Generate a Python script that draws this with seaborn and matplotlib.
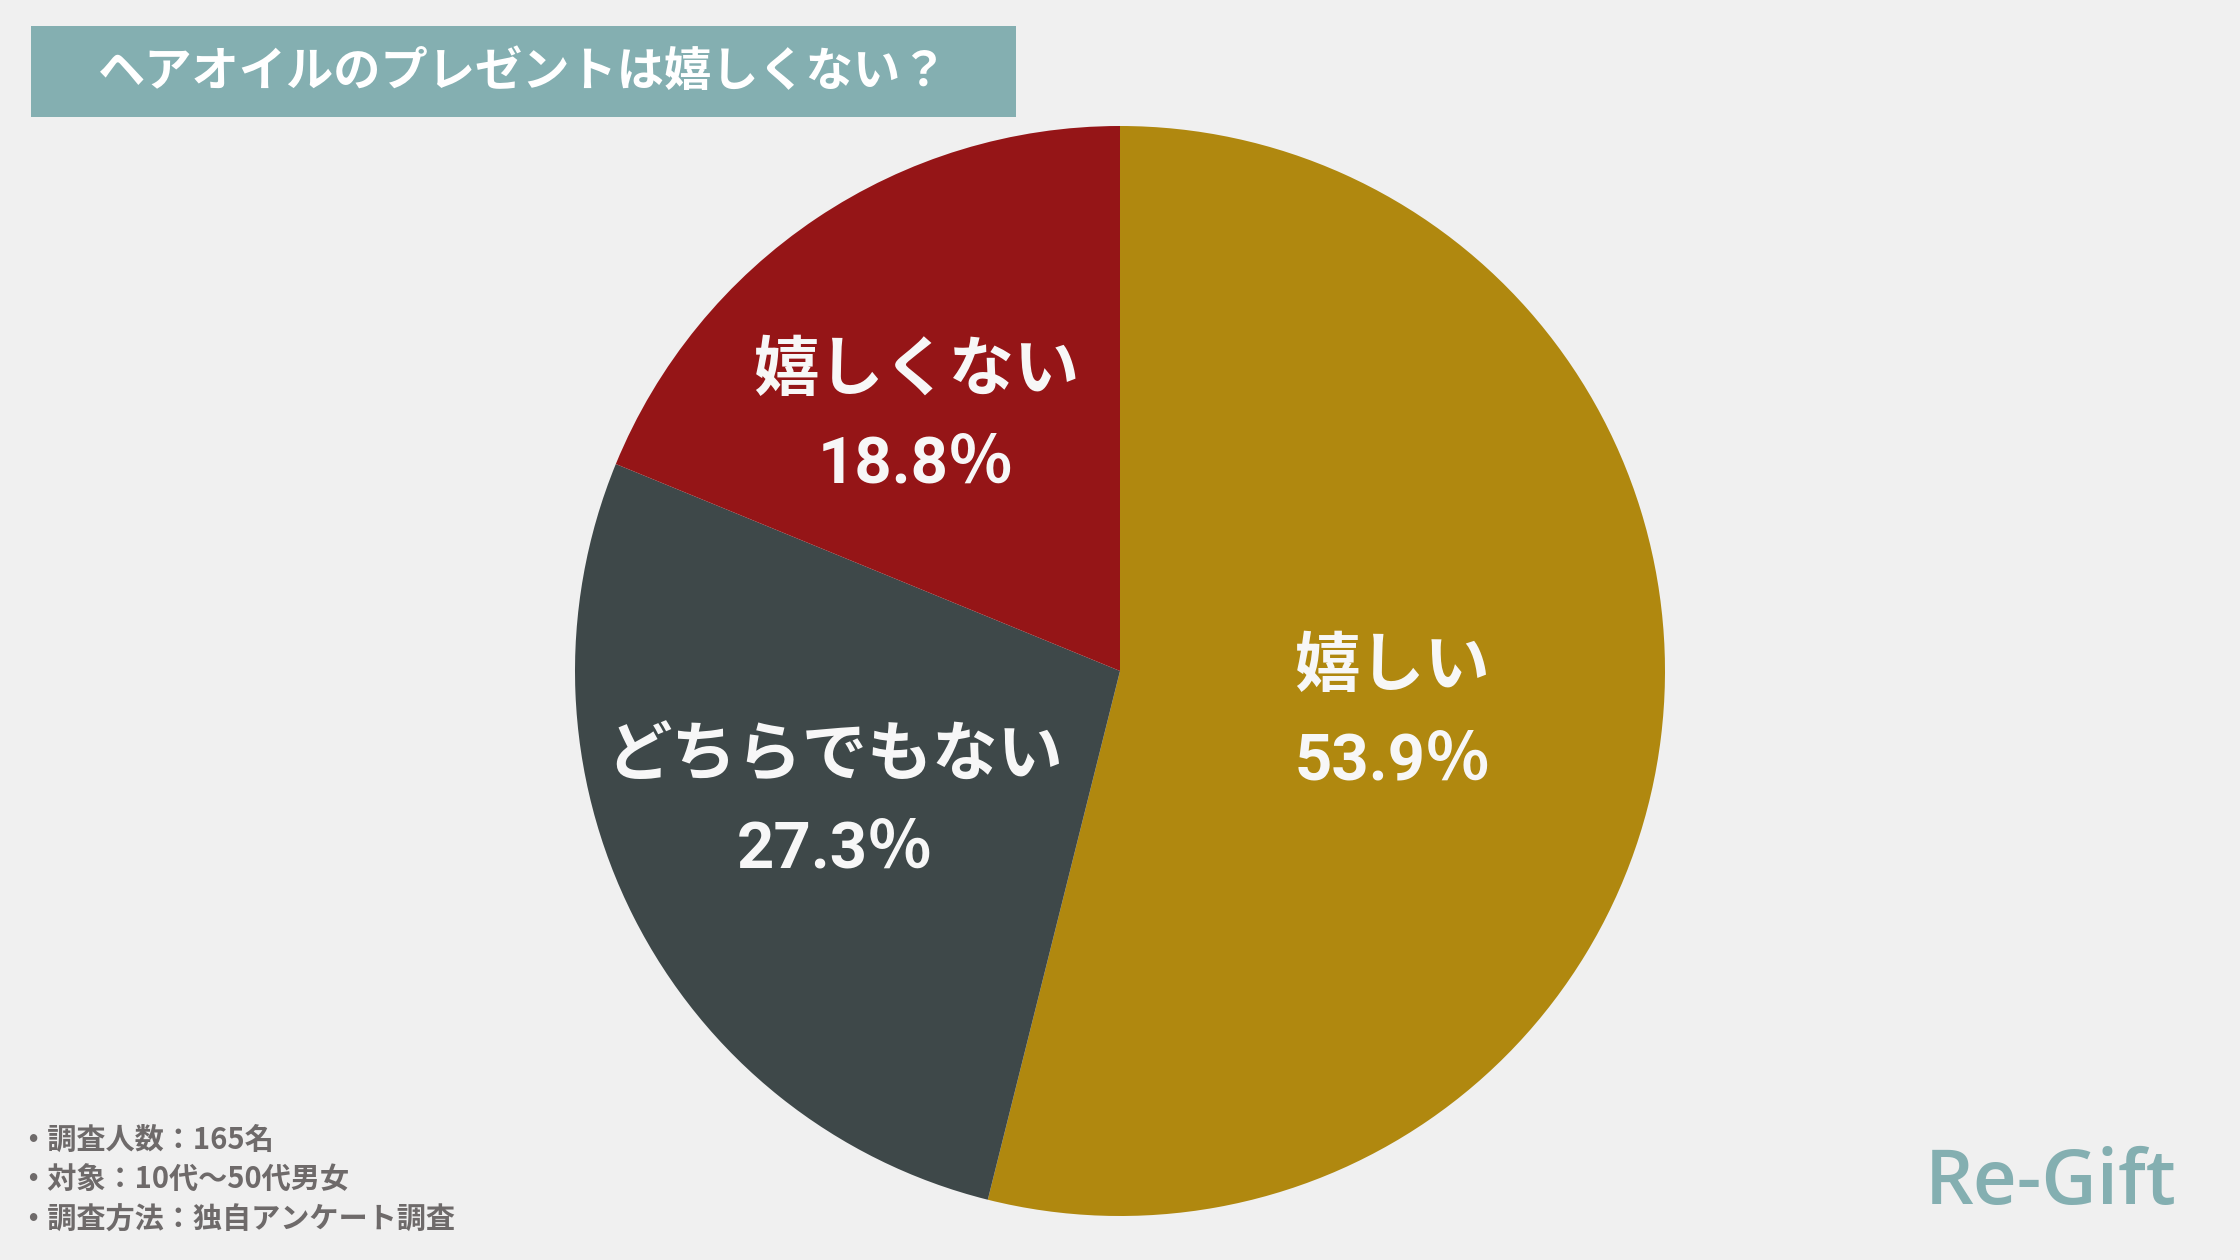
import numpy as np
import matplotlib
matplotlib.use("Agg")
import matplotlib.pyplot as plt
from matplotlib.patches import Rectangle
import seaborn as sns

# ---- data ----
categories = ["嬉しい", "どちらでもない", "嬉しくない"]
values = [53.9, 27.3, 18.8]
label_radius = [0.506, 0.577, 0.596]
label_angle_offset = [-2.0, -2.0, 5.0]
title = "ヘアオイルのプレゼントは嬉しくない？"
notes = ["・調査人数：165名", "・対象：10代〜50代男女", "・調査方法：独自アンケート調査"]
brand = "Re-Gift"

colors = sns.color_palette(["#b0880f", "#3e4849", "#951517"])
BG = "#f0f0f0"
TEAL = "#84afb1"

sns.set_theme(style="white")
plt.rcParams["font.family"] = ["Noto Sans CJK JP", "DejaVu Sans"]

fig = plt.figure(figsize=(22.4, 12.6), dpi=100, facecolor=BG)

# pie axes: center (1120, 671) px, radius 545 px
W, H = 2240, 1260
cx, cy, R = 1120, 671, 545
ax = fig.add_axes([(cx - R) / W, (H - cy - R) / H, 2 * R / W, 2 * R / H])
ax.set_facecolor(BG)
wedges, _ = ax.pie(values, colors=colors, startangle=90, counterclock=False,
                   radius=1.0, wedgeprops=dict(linewidth=0))
ax.set_xlim(-1, 1)
ax.set_ylim(-1, 1)
ax.set_aspect("equal")
ax.axis("off")

for w, cat, val, r, da in zip(wedges, categories, values, label_radius, label_angle_offset):
    ang = np.deg2rad((w.theta1 + w.theta2) / 2 + da)
    x, y = r * np.cos(ang), r * np.sin(ang)
    ax.text(x, y + 0.087, cat, ha="center", va="center", color="#f7f7f7",
            fontsize=47, fontweight="bold")
    ax.text(x, y - 0.087, f"{val:.1f}％", ha="center", va="center", color="#f7f7f7",
            fontsize=47, fontweight="bold", family=["Roboto", "Noto Sans CJK JP"])

# title box
fig.patches.append(Rectangle((31 / W, 1 - 117 / H), (1016 - 31) / W, (117 - 26) / H,
                             transform=fig.transFigure, facecolor=TEAL, edgecolor="none"))
fig.text(523 / W, 1 - 72 / H, title, ha="center", va="center", color="white",
         fontsize=34, fontweight="bold")

# notes
for i, n in enumerate(notes):
    fig.text(18 / W, 1 - (1140 + 40 * i) / H, n, ha="left", va="center",
             color="#6e6a6a", fontsize=21, fontweight="bold",
             family=["Noto Sans CJK JP", "DejaVu Sans"])

# brand
fig.text(2176 / W, 1 - 1184 / H, brand, ha="right", va="center", color=TEAL,
         fontsize=55, fontweight="semibold", family=["Open Sans", "DejaVu Sans"])

fig.savefig("out.png", dpi=100, facecolor=BG)
